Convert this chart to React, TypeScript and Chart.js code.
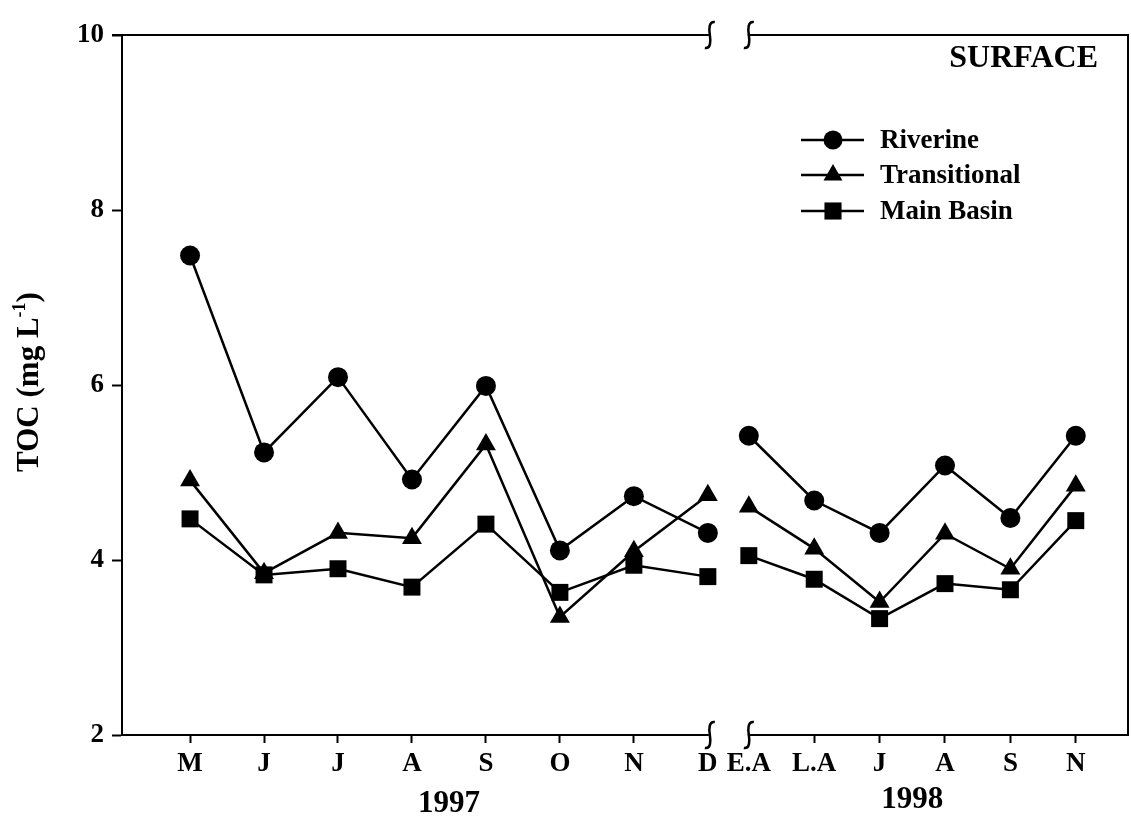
import React, { useEffect, useRef } from "react";
import { Chart, registerables } from "chart.js";

Chart.register(...registerables);

// ---- data ----
const months1997 = ["M", "J", "J", "A", "S", "O", "N", "D"];
const months1998 = ["E.A", "L.A", "J", "A", "S", "N"];
const riverine = [7.48, 5.23, 6.09, 4.92, 5.99, 4.11, 4.73, 4.31, 5.42, 4.68, 4.31, 5.08, 4.48, 5.42];
const transitional = [4.91, 3.85, 4.31, 4.25, 5.32, 3.35, 4.1, 4.74, 4.61, 4.13, 3.52, 4.3, 3.9, 4.85];
const mainBasin = [4.47, 3.83, 3.9, 3.69, 4.41, 3.63, 3.94, 3.81, 4.05, 3.78, 3.33, 3.73, 3.66, 4.45];
const yTicks = [2, 4, 6, 8, 10];
const seriesNames = ["Riverine", "Transitional", "Main Basin"];
const yearLabels = ["1997", "1998"];
const panelTitle = "SURFACE";

// ---- axis layout (broken time axis) ----
const START_1998 = 7.554; // slot of first 1998 sample
const STEP_1998 = 0.884; // 1998 sampling slot width
const X_MIN = -0.92;
const X_MAX = 12.68;
const FONT = "'Liberation Serif', 'Times New Roman', serif";
const VIEW_W = 1131;
const VIEW_H = 819;
const CANVAS_W = 1140; // extra width absorbs Chart.js point-overflow padding on the right

const xPos = [
  ...months1997.map((_, i) => i),
  ...months1998.map((_, i) => START_1998 + i * STEP_1998),
];
const xLabels = [...months1997, ...months1998];
const breakIndex = months1997.length - 1;

function drawMarker(ctx: CanvasRenderingContext2D, shape: string, x: number, y: number, r: number) {
  ctx.beginPath();
  if (shape === "circle") {
    ctx.arc(x, y, r, 0, Math.PI * 2);
  } else if (shape === "triangle") {
    const rr = r * 1.15;
    ctx.moveTo(x, y - rr);
    ctx.lineTo(x + rr * 0.866, y + rr * 0.5);
    ctx.lineTo(x - rr * 0.866, y + rr * 0.5);
    ctx.closePath();
  } else {
    const s = r * 0.9;
    ctx.rect(x - s, y - s, 2 * s, 2 * s);
  }
  ctx.fill();
}

function squiggle(ctx: CanvasRenderingContext2D, x: number, y: number) {
  ctx.beginPath();
  ctx.moveTo(x + 5, y - 13);
  ctx.bezierCurveTo(x - 1, y - 14, x - 1, y - 6, x, y);
  ctx.bezierCurveTo(x + 1, y + 6, x + 1, y + 14, x - 5, y + 13);
  ctx.stroke();
}

const decorPlugin = {
  id: "decor",
  afterDraw(chart: any) {
    const { ctx, chartArea } = chart;
    const xs = chart.scales.x;
    const { left, right, top, bottom } = chartArea;
    ctx.save();
    ctx.strokeStyle = "#000";
    ctx.fillStyle = "#000";
    ctx.lineWidth = 2;
    // top and right frame
    ctx.beginPath();
    ctx.moveTo(left - 10, top);
    ctx.lineTo(right, top);
    ctx.lineTo(right, bottom);
    ctx.stroke();

    // axis break
    const bx1 = xs.getPixelForValue(xPos[breakIndex]);
    const bx2 = xs.getPixelForValue(xPos[breakIndex + 1]);
    ctx.fillStyle = "#fff";
    ctx.fillRect(bx1 + 1, top - 3, bx2 - bx1 - 2, 6);
    ctx.fillRect(bx1 + 1, bottom - 3, bx2 - bx1 - 2, 6);
    ctx.lineWidth = 2.5;
    [top, bottom].forEach((yy) => {
      squiggle(ctx, bx1 + 2, yy);
      squiggle(ctx, bx2, yy);
    });

    // year labels
    ctx.fillStyle = "#000";
    ctx.font = `bold 31px ${FONT}`;
    ctx.textAlign = "center";
    ctx.textBaseline = "middle";
    const m1 = (xs.getPixelForValue(xPos[0]) + xs.getPixelForValue(xPos[breakIndex])) / 2;
    const m2 = (xs.getPixelForValue(xPos[breakIndex + 1]) + xs.getPixelForValue(xPos[xPos.length - 1])) / 2;
    ctx.fillText(yearLabels[0], m1, 804);
    ctx.fillText(yearLabels[1], m2, 800);

    // panel title
    ctx.font = `bold 32px ${FONT}`;
    ctx.textAlign = "right";
    ctx.fillText(panelTitle, right - 30, top + 24);

    // legend
    const shapes = ["circle", "triangle", "rect"];
    const rows = [140, 175, 211];
    ctx.font = `bold 27px ${FONT}`;
    ctx.textAlign = "left";
    rows.forEach((ry, i) => {
      ctx.lineWidth = 2.5;
      ctx.beginPath();
      ctx.moveTo(801, ry);
      ctx.lineTo(864, ry);
      ctx.stroke();
      drawMarker(ctx, shapes[i], 833, ry, 9.5);
      ctx.fillText(seriesNames[i], 880, ry + 1);
    });

    // y title with superscript
    ctx.translate(30, 382);
    ctx.rotate(-Math.PI / 2);
    const main = "TOC (mg L";
    const sup = "-1";
    const close = ")";
    ctx.font = `bold 31px ${FONT}`;
    const w1 = ctx.measureText(main).width;
    const w3 = ctx.measureText(close).width;
    ctx.font = `bold 18px ${FONT}`;
    const w2 = ctx.measureText(sup).width;
    const total = w1 + w2 + w3;
    let cx = -total / 2;
    ctx.textAlign = "left";
    ctx.font = `bold 31px ${FONT}`;
    ctx.fillText(main, cx, 0);
    cx += w1;
    ctx.font = `bold 18px ${FONT}`;
    ctx.fillText(sup, cx, -10);
    cx += w2;
    ctx.font = `bold 31px ${FONT}`;
    ctx.fillText(close, cx, 0);
    ctx.restore();
  },
};

function makeDataset(label: string, values: number[], shape: string, radius: number) {
  return {
    label,
    data: values.map((v, i) => ({ x: xPos[i], y: v })),
    borderColor: "#000",
    backgroundColor: "#000",
    borderWidth: 2.5,
    pointStyle: shape,
    pointRadius: radius,
    pointBorderWidth: 0,
    pointBackgroundColor: "#000",
    tension: 0,
    segment: {
      borderColor: (c: any) => (c.p0DataIndex === breakIndex ? "rgba(0,0,0,0)" : "#000"),
    },
  };
}

export default function App() {
  const ref = useRef<HTMLCanvasElement | null>(null);
  useEffect(() => {
    document.body.style.margin = "0";
    if (!ref.current) return;
    const chart = new Chart(ref.current, {
      type: "line",
      data: {
        datasets: [
          makeDataset(seriesNames[0], riverine, "circle", 10),
          makeDataset(seriesNames[1], transitional, "triangle", 11.5),
          makeDataset(seriesNames[2], mainBasin, "rect", 12),
        ],
      },
      options: {
        responsive: false,
        animation: false,
        devicePixelRatio: 1,
        layout: { padding: { top: 35, right: 3, left: 0, bottom: 0 } },
        plugins: { legend: { display: false }, tooltip: { enabled: false } },
        scales: {
          x: {
            type: "linear",
            min: X_MIN,
            max: X_MAX,
            afterBuildTicks: (s: any) => {
              s.ticks = xPos.map((v) => ({ value: v }));
            },
            afterFit: (s: any) => {
              s.height = 84;
              s.paddingLeft = 0;
              s.paddingRight = 0;
            },
            ticks: {
              autoSkip: false,
              maxRotation: 0,
              padding: 5,
              color: "#000",
              font: { family: FONT, weight: "bold", size: 27 },
              callback: (_v: any, i: number) => xLabels[i],
            },
            grid: {
              drawOnChartArea: false,
              drawTicks: true,
              tickLength: 8,
              tickWidth: 2,
              tickColor: (c: any) =>
                c.index === breakIndex || c.index === breakIndex + 1 ? "rgba(0,0,0,0)" : "#000",
            },
            border: { display: true, color: "#000", width: 2 },
          },
          y: {
            min: 2,
            max: 10,
            afterBuildTicks: (s: any) => {
              s.ticks = yTicks.map((v) => ({ value: v }));
            },
            afterFit: (s: any) => {
              s.width = 122;
              s.paddingTop = 0;
              s.paddingBottom = 0;
            },
            ticks: {
              padding: 8,
              color: "#000",
              font: { family: FONT, weight: "bold", size: 27 },
            },
            grid: {
              drawOnChartArea: false,
              drawTicks: true,
              tickLength: 10,
              tickWidth: 2,
              tickColor: "#000",
            },
            border: { display: true, color: "#000", width: 2 },
          },
        },
      },
      plugins: [decorPlugin],
    } as any);
    return () => chart.destroy();
  }, []);
  return (
    <div style={{ width: VIEW_W, height: VIEW_H, background: "#fff", overflow: "hidden" }}>
      <canvas
        ref={ref}
        width={CANVAS_W}
        height={VIEW_H}
        style={{ width: CANVAS_W, height: VIEW_H, display: "block" }}
      />
    </div>
  );
}
